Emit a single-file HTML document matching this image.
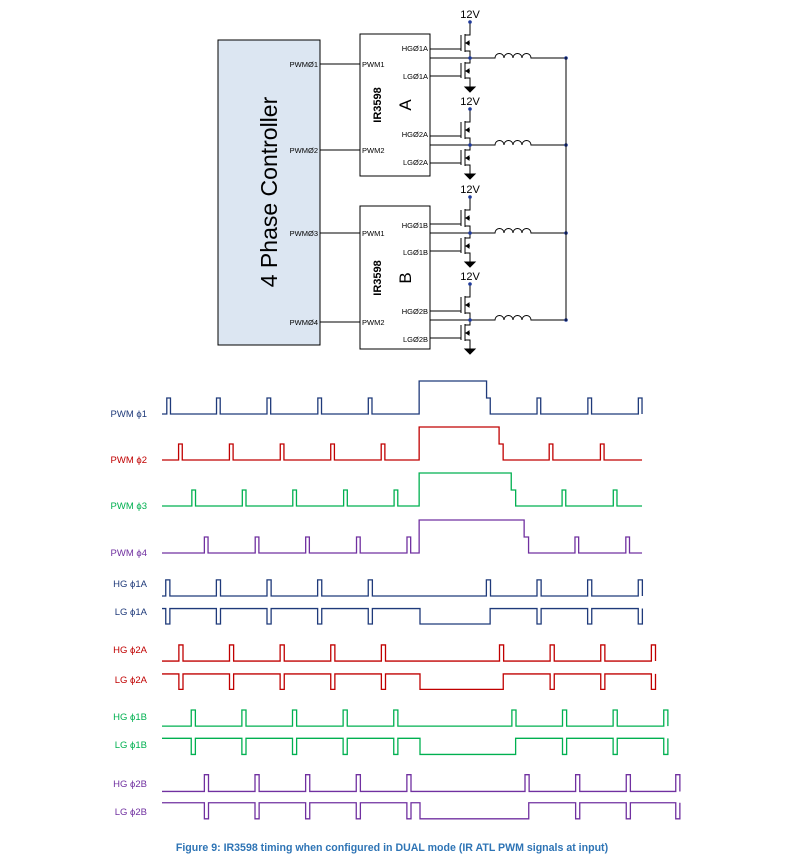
<!DOCTYPE html>
<html><head><meta charset="utf-8"><style>
html,body{margin:0;padding:0;background:#fff;}
svg{display:block;font-family:"Liberation Sans",sans-serif;}
</style></head><body>
<svg id="s" width="789" height="857" viewBox="0 0 789 857" xmlns="http://www.w3.org/2000/svg">
<rect x="218" y="40" width="102" height="305" fill="#dce6f2" stroke="#000" stroke-width="1"/>
<text transform="translate(277,192) rotate(-90)" text-anchor="middle" font-size="23" fill="#000">4 Phase Controller</text>
<g font-size="7.5" fill="#000">
<text x="318" y="67" text-anchor="end">PWMØ1</text>
<text x="318" y="153" text-anchor="end">PWMØ2</text>
<text x="318" y="236" text-anchor="end">PWMØ3</text>
<text x="318" y="325" text-anchor="end">PWMØ4</text>
</g>
<g stroke="#000" stroke-width="1">
<line x1="320" y1="64" x2="360" y2="64"/><line x1="320" y1="150" x2="360" y2="150"/>
<line x1="320" y1="233" x2="360" y2="233"/><line x1="320" y1="322" x2="360" y2="322"/>
</g>
<rect x="360" y="34" width="70" height="142" fill="#fff" stroke="#000"/>
<rect x="360" y="206" width="70" height="143" fill="#fff" stroke="#000"/>
<g font-size="7.5" fill="#000">
<text x="362" y="67">PWM1</text><text x="362" y="153">PWM2</text>
<text x="362" y="236">PWM1</text><text x="362" y="325">PWM2</text>
<text x="428" y="51" text-anchor="end">HGØ1A</text><text x="428" y="79" text-anchor="end">LGØ1A</text>
<text x="428" y="137" text-anchor="end">HGØ2A</text><text x="428" y="165" text-anchor="end">LGØ2A</text>
<text x="428" y="228" text-anchor="end">HGØ1B</text><text x="428" y="255" text-anchor="end">LGØ1B</text>
<text x="428" y="314" text-anchor="end">HGØ2B</text><text x="428" y="342" text-anchor="end">LGØ2B</text>
</g>
<text transform="translate(381,105) rotate(-90)" text-anchor="middle" font-size="11" font-weight="bold">IR3598</text>
<text transform="translate(411,105) rotate(-90)" text-anchor="middle" font-size="17">A</text>
<text transform="translate(381,278) rotate(-90)" text-anchor="middle" font-size="11" font-weight="bold">IR3598</text>
<text transform="translate(411,278) rotate(-90)" text-anchor="middle" font-size="17">B</text>
<g font-size="11" fill="#000" text-anchor="middle">
<text x="470" y="18">12V</text><text x="470" y="105">12V</text><text x="470" y="193">12V</text><text x="470" y="280">12V</text>
</g>
<g id="sch" stroke="#000" stroke-width="1" fill="none"></g>
<line x1="566" y1="57" x2="566" y2="321" stroke="#000"/>
<g id="wav" fill="none" stroke-width="1.3"></g>
<g font-size="9.5" text-anchor="end">
<text x="147" y="417" fill="#1f3a7a">PWM ϕ1</text>
<text x="147" y="463" fill="#c00000">PWM ϕ2</text>
<text x="147" y="509" fill="#00b050">PWM ϕ3</text>
<text x="147" y="556" fill="#7030a0">PWM ϕ4</text>
<text x="147" y="587" fill="#1f3a7a">HG ϕ1A</text>
<text x="147" y="615" fill="#1f3a7a">LG ϕ1A</text>
<text x="147" y="653" fill="#c00000">HG ϕ2A</text>
<text x="147" y="683" fill="#c00000">LG ϕ2A</text>
<text x="147" y="720" fill="#00b050">HG ϕ1B</text>
<text x="147" y="748" fill="#00b050">LG ϕ1B</text>
<text x="147" y="787" fill="#7030a0">HG ϕ2B</text>
<text x="147" y="815" fill="#7030a0">LG ϕ2B</text>
</g>
<text x="392" y="851" text-anchor="middle" font-size="10.6" font-weight="bold" fill="#2e74b5">Figure 9: IR3598 timing when configured in DUAL mode (IR ATL PWM signals at input)</text>
</svg>
<script>
var NS="http://www.w3.org/2000/svg";
function el(p,t,a){var e=document.createElementNS(NS,t);for(var k in a)e.setAttribute(k,a[k]);p.appendChild(e);return e;}
var sch=document.getElementById('sch');
[22,109,197,284].forEach(function(y0){
 var d="";
 d+="M470 "+y0+" V"+(y0+13)+" H465 ";
 d+="M465 "+(y0+12)+" V"+(y0+30)+" M461 "+(y0+13)+" V"+(y0+29);
 d+="M465 "+(y0+21)+" H470 M465 "+(y0+29)+" H470 V"+(y0+41)+" H465";
 d+="M430 "+(y0+27)+" H461";
 d+="M465 "+(y0+40)+" V"+(y0+57)+" M461 "+(y0+41)+" V"+(y0+56);
 d+="M465 "+(y0+49)+" H470 M465 "+(y0+56)+" H470 V"+(y0+65);
 d+="M430 "+(y0+54)+" H461";
 var ys=y0+36;
 d+="M430 "+ys+" H495 ";
 for(var i=0;i<4;i++){d+="a4.5 4.5 0 0 1 9 0 ";}
 d+="H566";
 el(sch,'path',{d:d});
 el(sch,'path',{d:"M465 "+(y0+65)+" H475 L470 "+(y0+70)+" Z",fill:"#000"});
 el(sch,'path',{d:"M466 "+(y0+21)+" l3 -2 v4 z M466 "+(y0+49)+" l3 -2 v4 z",fill:"#000"});
 el(sch,'circle',{cx:470,cy:y0,r:1.8,fill:"#1f3a9a",stroke:"none"});
 el(sch,'circle',{cx:470,cy:ys,r:1.8,fill:"#1f3a9a",stroke:"none"});
 el(sch,'circle',{cx:566,cy:ys,r:1.8,fill:"#1f3a9a",stroke:"none"});
});
var wav=document.getElementById('wav');
var cols=["#1f3a7a","#c00000","#00b050","#7030a0"];
function X1(z){return 162+(z-162)*0.3684;}
function X2(z){return 162+(z-160)*0.375;}
var pw=[
 {b:414,p:[175,310,447,585,722],h:[860,1043,1053],q:[1180,1318,1455]},
 {b:460,p:[207,345,483,620,757],h:[860,1077,1088],q:[1213,1352]},
 {b:506,p:[243,380,517,655,792],h:[860,1110,1122],q:[1248,1387]},
 {b:553,p:[277,415,552,690,827],h:[860,1145,1157],q:[1283,1421]}];
pw.forEach(function(r,i){
 var b=r.b,t=b-16,H=b-33,d="M"+X1(162)+" "+b;
 r.p.forEach(function(z){d+=" H"+X1(z)+" V"+t+" H"+X1(z+10)+" V"+b;});
 d+=" H"+X1(r.h[0])+" V"+H+" H"+X1(r.h[1])+" V"+t+" H"+X1(r.h[2])+" V"+b;
 r.q.forEach(function(z){d+=" H"+X1(z)+" V"+t+" H"+X1(z+10)+" V"+b;});
 d+=" H"+X1(1465);
 if(i==0)d+=" V"+t;
 el(wav,'path',{d:d,stroke:cols[i]});
});
function Y(z){return 596+(z-78)*0.322;}
var gr=[
 {hb:78,ht:28,lt:117,ll:165,p:[170,305,440,575,710],lo:[848,1035],q:[1025,1160,1295,1430]},
 {hb:280,ht:230,lt:320,ll:368,p:[205,340,475,610,745],lo:[848,1070],q:[1060,1195,1330,1465]},
 {hb:482,ht:432,lt:520,ll:570,p:[238,373,508,643,778],lo:[848,1103],q:[1093,1228,1363,1498]},
 {hb:685,ht:633,lt:720,ll:770,p:[273,408,543,678,813],lo:[848,1138],q:[1128,1263,1398,1530]}];
gr.forEach(function(r,i){
 var hb=Y(r.hb),ht=Y(r.ht),lt=Y(r.lt),ll=Y(r.ll),w=11;
 var all=r.p.concat(r.q);
 var d="M"+X2(160)+" "+hb;
 all.forEach(function(z){d+=" H"+X2(z)+" V"+ht+" H"+X2(z+w)+" V"+hb;});
 el(wav,'path',{d:d,stroke:cols[i]});
 d="M"+X2(160)+" "+lt;
 r.p.forEach(function(z){d+=" H"+X2(z)+" V"+ll+" H"+X2(z+w)+" V"+lt;});
 d+=" H"+X2(r.lo[0])+" V"+ll+" H"+X2(r.lo[1])+" V"+lt;
 r.q.slice(1).forEach(function(z){d+=" H"+X2(z)+" V"+ll+" H"+X2(z+w)+" V"+lt;});
 el(wav,'path',{d:d,stroke:cols[i]});
});
</script>
</body></html>
